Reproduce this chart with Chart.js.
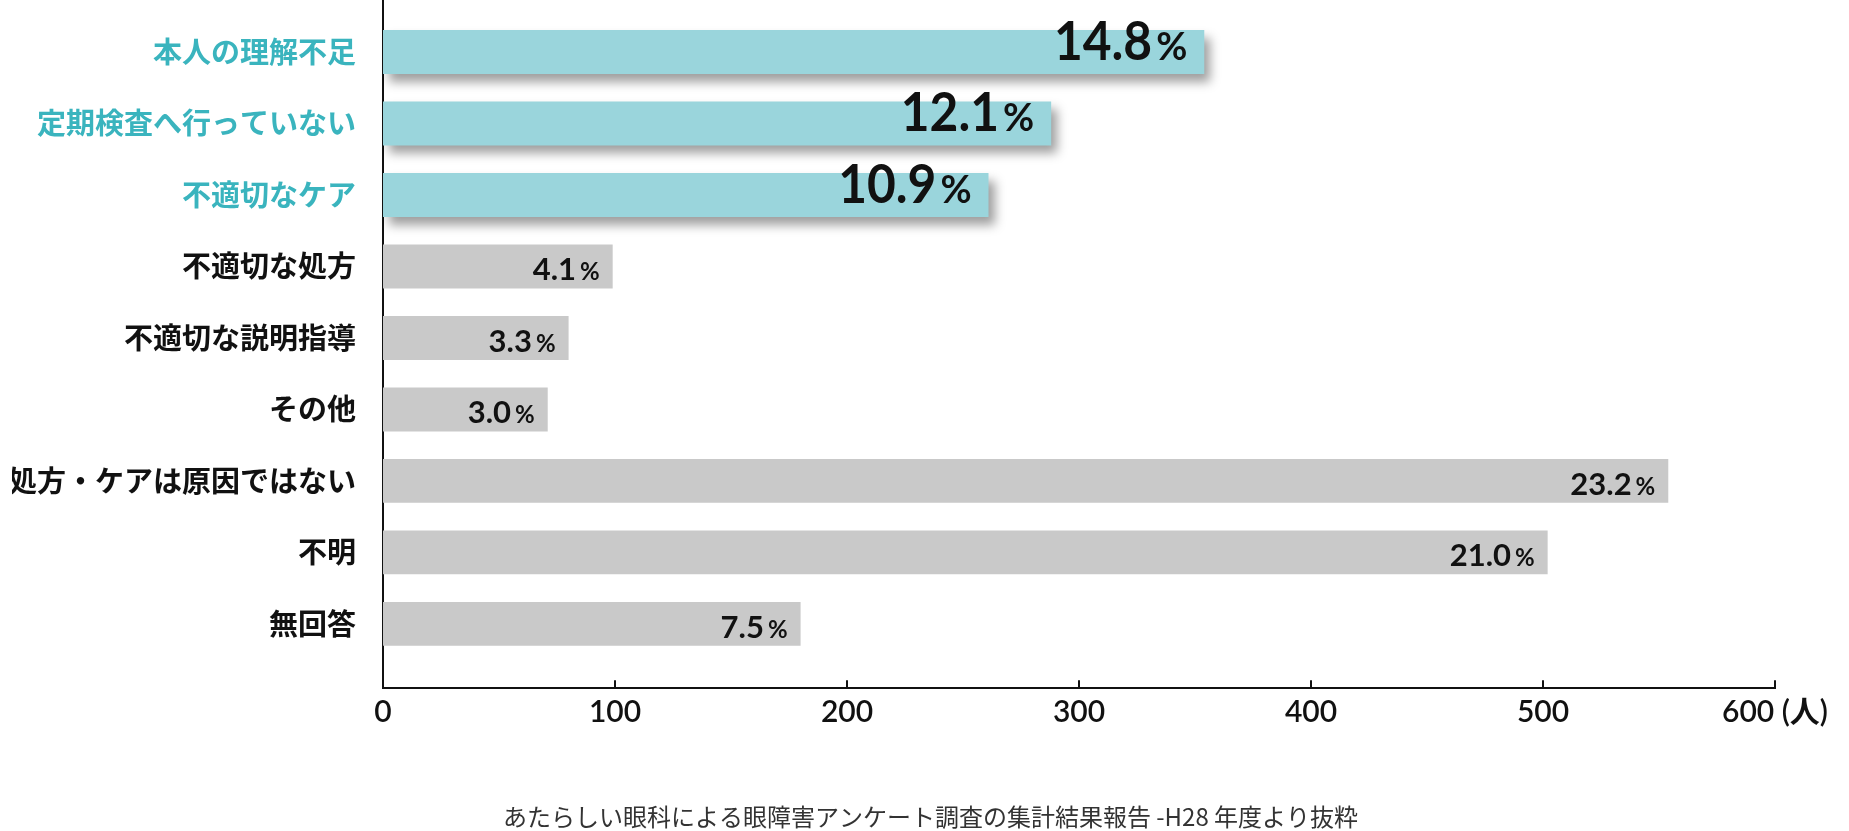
<!DOCTYPE html>
<html lang="ja">
<head>
<meta charset="utf-8">
<title>眼障害の原因</title>
<script src="https://cdn.jsdelivr.net/npm/chart.js@4.4.1/dist/chart.umd.min.js"></script>
<style>
  html, body { margin: 0; padding: 0; background: #fff; }
  #wrap { width: 1849px; height: 831px; position: relative; }
</style>
</head>
<body>
<div id="wrap"><canvas id="causeChart"></canvas></div>
<script>
// categories, top to bottom
const categories = ['本人の理解不足', '定期検査へ行っていない', '不適切なケア', '不適切な処方', '不適切な説明指導', 'その他', '処方・ケアは原因ではない', '不明', '無回答'];
// respondents per cause (人)
const counts = [354, 288, 261, 99, 80, 71, 554, 502, 180];
// share printed on each bar (%)
const percents = ['14.8', '12.1', '10.9', '4.1', '3.3', '3.0', '23.2', '21.0', '7.5'];
// the first three are drawn in teal
const highlighted = [true, true, true, false, false, false, false, false, false];
const xTicks = [0, 100, 200, 300, 400, 500, 600];
const xUnit = '(人)';
const source = 'あたらしい眼科による眼障害アンケート調査の集計結果報告 -H28 年度より抜粋';

const TEAL_BAR = '#9AD5DC';
const TEAL_TEXT = '#3AB4BE';
const GRAY_BAR = '#C9C9C9';
const INK = '#111111';

const points = (flag) => counts
    .map((v, i) => ({ x: v, y: i }))
    .filter((p) => highlighted[p.y] === flag);

// soft drop shadow under the teal bars only (dataset 0)
const barShadow = {
    id: 'barShadow',
    beforeDatasetDraw(chart, args) {
        if (args.index !== 0) return;
        const ctx = chart.ctx;
        ctx.save();
        ctx.shadowColor = 'rgba(0, 0, 0, 0.38)';
        ctx.shadowBlur = 10;
        ctx.shadowOffsetX = 6;
        ctx.shadowOffsetY = 8;
    },
    afterDatasetDraw(chart, args) {
        if (args.index === 0) chart.ctx.restore();
    }
};

// small tick marks pointing up from the x axis
const innerTicks = {
    id: 'innerTicks',
    afterDraw(chart) {
        const xs = chart.scales.x;
        const ctx = chart.ctx;
        const y0 = chart.chartArea.bottom;
        ctx.save();
        ctx.strokeStyle = INK;
        ctx.lineWidth = 2;
        xs.ticks.forEach((t) => {
            if (t.value === 0) return;
            const px = Math.round(xs.getPixelForValue(t.value));
            ctx.beginPath();
            ctx.moveTo(px, y0 - 8);
            ctx.lineTo(px, y0);
            ctx.stroke();
        });
        ctx.restore();
    }
};

// "14.8%" style labels at the end of each bar
const barLabels = {
    id: 'barLabels',
    afterDatasetsDraw(chart) {
        const ctx = chart.ctx;
        chart.data.datasets.forEach((ds, di) => {
            const meta = chart.getDatasetMeta(di);
            meta.data.forEach((bar, j) => {
                const i = ds.data[j].y;
                const big = highlighted[i];
                const right = bar.x - (big ? 17 : 13);
                const base = bar.y + (big ? 8 : 14);
                ctx.save();
                ctx.fillStyle = INK;
                ctx.textAlign = 'right';
                ctx.textBaseline = 'alphabetic';
                ctx.font = big ? '700 38px Lato' : '700 24px Lato';
                ctx.fillText('%', right, base);
                const w = ctx.measureText('%').width;
                ctx.font = big ? '700 54px Lato' : '700 31px Lato';
                const sx = big ? 0.92 : 1;
                ctx.translate(right - w - (big ? 4 : 4), base);
                ctx.scale(sx, 1);
                ctx.fillText(percents[i], 0, 0);
                ctx.restore();
            });
        });
    }
};

new Chart(document.getElementById('causeChart'), {
    type: 'bar',
    data: {
        datasets: [
            { data: points(true), backgroundColor: TEAL_BAR, grouped: false, barPercentage: 0.615, categoryPercentage: 1 },
            { data: points(false), backgroundColor: GRAY_BAR, grouped: false, barPercentage: 0.615, categoryPercentage: 1 }
        ]
    },
    options: {
        indexAxis: 'y',
        responsive: true,
        maintainAspectRatio: false,
        animation: false,
        devicePixelRatio: 1,
        // a little left padding keeps the bottom caption centred where the original has it
        layout: { padding: { top: 0, right: 0, bottom: 0, left: 12 } },
        plugins: {
            legend: { display: false },
            tooltip: { enabled: false },
            title: {
                display: true,
                position: 'bottom',
                text: source,
                color: '#333',
                font: { family: "'Noto Sans CJK JP'", size: 24, weight: 'normal' },
                padding: { top: 66, bottom: 0 }
            }
        },
        scales: {
            x: {
                type: 'linear',
                min: 0,
                max: 600,
                grid: { display: false },
                border: { display: true, color: INK, width: 2 },
                afterBuildTicks: (s) => { s.ticks = xTicks.map((v) => ({ value: v })); },
                ticks: {
                    padding: -2,
                    color: INK,
                    autoSkip: false,
                    maxRotation: 0,
                    font: { family: "Lato, 'Noto Sans CJK JP'", size: 30, weight: '600' },
                    callback: (v) => (v === 600 ? v + ' ' + xUnit : v)
                },
                afterFit: (s) => { s.height = 48; s.paddingRight = 74; }
            },
            y: {
                type: 'linear',
                reverse: true,
                offset: false,
                min: -0.727,
                max: 8.9,
                grid: { display: false, offset: false },
                border: { display: true, color: INK, width: 2 },
                afterBuildTicks: (s) => { s.ticks = categories.map((_, i) => ({ value: i })); },
                ticks: {
                    padding: 19,
                    autoSkip: false,
                    color: (c) => (highlighted[c.tick.value] ? TEAL_TEXT : INK),
                    font: { family: "'Noto Sans CJK JP'", size: 29, weight: 'bold' },
                    callback: (v) => categories[v]
                },
                afterFit: (s) => { s.width = 371; s.paddingTop = 0; s.paddingBottom = 0; }
            }
        }
    },
    plugins: [barShadow, innerTicks, barLabels]
});
</script>
</body>
</html>
